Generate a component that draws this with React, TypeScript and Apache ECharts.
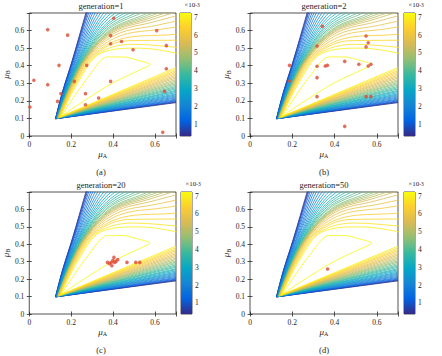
import React, { useEffect, useRef } from "react";
import * as echarts from "echarts";

// ---------- data ----------
const panelTitles = ["generation=1", "generation=2", "generation=20", "generation=50"];
const panelCaptions = ["(a)", "(b)", "(c)", "(d)"];

// contour level values (x10^-3), outer (low) -> inner (high); last one is the closed loop
const levelValues = [
  0.45, 0.675, 0.9, 1.125, 1.35, 1.575, 1.8, 2.025, 2.25, 2.475, 2.7, 2.925, 3.15, 3.375, 3.6, 3.825,
  4.05, 4.275, 4.5, 4.725, 4.95, 5.175, 5.4, 5.625, 5.85, 6.075, 6.3, 6.525, 6.75, 6.975, 7.2,
];

// upper arm of each open contour: starts at the wedge apex, rises, bends over to the right
const upperArms = [
  [[0.125, 0.098], [0.158, 0.25], [0.205, 0.43], [0.27, 0.7], [0.32, 0.9], [0.37, 1.1]],
  [[0.125, 0.098], [0.159, 0.251], [0.206, 0.43], [0.273, 0.698], [0.325, 0.896], [0.377, 1.093]],
  [[0.126, 0.098], [0.16, 0.251], [0.208, 0.431], [0.276, 0.695], [0.332, 0.889], [0.388, 1.083]],
  [[0.126, 0.099], [0.161, 0.252], [0.211, 0.432], [0.281, 0.691], [0.342, 0.88], [0.403, 1.069]],
  [[0.127, 0.099], [0.163, 0.254], [0.214, 0.433], [0.288, 0.686], [0.354, 0.869], [0.421, 1.051]],
  [[0.128, 0.099], [0.165, 0.255], [0.219, 0.434], [0.295, 0.68], [0.368, 0.855], [0.443, 1.03]],
  [[0.128, 0.1], [0.167, 0.257], [0.223, 0.435], [0.303, 0.674], [0.382, 0.842], [0.465, 1.009]],
  [[0.129, 0.1], [0.17, 0.258], [0.227, 0.437], [0.311, 0.667], [0.398, 0.827], [0.489, 0.986]],
  [[0.13, 0.1], [0.172, 0.26], [0.232, 0.438], [0.319, 0.661], [0.415, 0.811], [0.514, 0.962]],
  [[0.131, 0.101], [0.174, 0.261], [0.236, 0.439], [0.327, 0.654], [0.429, 0.797], [0.536, 0.94]],
  [[0.132, 0.101], [0.177, 0.263], [0.24, 0.44], [0.335, 0.648], [0.445, 0.783], [0.56, 0.918]],
  [[0.132, 0.102], [0.179, 0.265], [0.244, 0.442], [0.343, 0.642], [0.46, 0.769], [0.583, 0.896]],
  [[0.133, 0.102], [0.181, 0.266], [0.248, 0.443], [0.35, 0.636], [0.474, 0.756], [0.604, 0.876]],
  [[0.134, 0.102], [0.183, 0.268], [0.252, 0.444], [0.358, 0.63], [0.488, 0.743], [0.626, 0.855]],
  [[0.134, 0.103], [0.185, 0.269], [0.256, 0.445], [0.364, 0.625], [0.5, 0.731], [0.644, 0.838]],
  [[0.135, 0.103], [0.187, 0.27], [0.259, 0.446], [0.37, 0.62], [0.512, 0.72], [0.662, 0.82]],
  [[0.136, 0.103], [0.189, 0.271], [0.262, 0.447], [0.376, 0.615], [0.524, 0.709], [0.68, 0.803]],
  [[0.136, 0.103], [0.19, 0.272], [0.265, 0.448], [0.381, 0.611], [0.534, 0.7], [0.695, 0.789]],
  [[0.137, 0.104], [0.192, 0.273], [0.268, 0.449], [0.387, 0.606], [0.545, 0.689], [0.712, 0.772]],
  [[0.137, 0.104], [0.193, 0.274], [0.27, 0.449], [0.391, 0.603], [0.553, 0.682], [0.724, 0.76]],
  [[0.138, 0.104], [0.194, 0.275], [0.273, 0.45], [0.395, 0.6], [0.56, 0.675], [0.735, 0.75]],
  [[0.138, 0.104], [0.195, 0.276], [0.275, 0.451], [0.399, 0.597], [0.568, 0.668], [0.747, 0.739]],
  [[0.138, 0.104], [0.196, 0.277], [0.277, 0.451], [0.403, 0.593], [0.576, 0.66], [0.759, 0.727]],
  [[0.139, 0.105], [0.198, 0.278], [0.281, 0.452], [0.41, 0.588], [0.589, 0.648], [0.779, 0.708]],
  [[0.14, 0.105], [0.201, 0.28], [0.286, 0.454], [0.42, 0.58], [0.608, 0.63], [0.808, 0.68]],
  [[0.141, 0.106], [0.205, 0.283], [0.293, 0.456], [0.433, 0.57], [0.632, 0.608], [0.845, 0.645]],
  [[0.143, 0.107], [0.21, 0.286], [0.302, 0.459], [0.45, 0.556], [0.666, 0.576], [0.896, 0.596]],
  [[0.145, 0.107], [0.215, 0.29], [0.312, 0.462], [0.468, 0.542], [0.699, 0.545], [0.947, 0.547]],
  [[0.147, 0.109], [0.222, 0.295], [0.325, 0.466], [0.493, 0.522], [0.747, 0.5], [1.02, 0.477]],
  [[0.15, 0.11], [0.23, 0.3], [0.34, 0.47], [0.52, 0.5], [0.8, 0.45], [1.1, 0.4]],
];

// lower arm of each open contour: from the apex to the right edge
const lowerEnds = [
  [0.7, 0.19], [0.7, 0.193], [0.7, 0.196], [0.7, 0.2], [0.7, 0.205], [0.7, 0.21], [0.7, 0.216],
  [0.7, 0.222], [0.7, 0.228], [0.7, 0.234], [0.7, 0.24], [0.7, 0.247], [0.7, 0.254], [0.7, 0.26],
  [0.7, 0.268], [0.7, 0.275], [0.7, 0.282], [0.7, 0.29], [0.7, 0.298], [0.7, 0.305], [0.7, 0.313],
  [0.7, 0.321], [0.7, 0.33], [0.7, 0.338], [0.7, 0.346], [0.7, 0.355], [0.7, 0.364], [0.7, 0.372],
  [0.7, 0.381], [0.7, 0.39],
];

// closed innermost contour (highest level), tip near (0.576, 0.407)
const innerLoop = [
  [0.152, 0.112], [0.2, 0.2], [0.28, 0.335], [0.37, 0.45], [0.45, 0.45], [0.52, 0.43], [0.576, 0.407],
  [0.52, 0.372], [0.45, 0.333], [0.37, 0.283], [0.28, 0.215], [0.2, 0.152], [0.152, 0.112],
];

const gen1Points = [
  [0.003, 0.165], [0.022, 0.317], [0.088, 0.605], [0.088, 0.292], [0.183, 0.574], [0.142, 0.402],
  [0.151, 0.241], [0.135, 0.197], [0.215, 0.311], [0.274, 0.402], [0.268, 0.241], [0.268, 0.178],
  [0.331, 0.216], [0.403, 0.67], [0.388, 0.572], [0.388, 0.525], [0.44, 0.538], [0.388, 0.311],
  [0.495, 0.491], [0.608, 0.6], [0.654, 0.514], [0.654, 0.383], [0.645, 0.254], [0.637, 0.021],
];
const gen2Points = [
  [0.187, 0.402], [0.187, 0.313], [0.342, 0.624], [0.317, 0.512], [0.317, 0.397], [0.317, 0.332],
  [0.317, 0.224], [0.356, 0.398], [0.366, 0.402], [0.448, 0.425], [0.448, 0.055], [0.515, 0.408],
  [0.549, 0.569], [0.549, 0.507], [0.559, 0.531], [0.559, 0.398], [0.572, 0.408], [0.549, 0.224],
  [0.572, 0.224],
];
const gen20Points = [
  [0.373, 0.296], [0.383, 0.289], [0.391, 0.296], [0.399, 0.308], [0.404, 0.325], [0.407, 0.296],
  [0.394, 0.277], [0.414, 0.302], [0.422, 0.312], [0.466, 0.296], [0.508, 0.296], [0.527, 0.296],
];
const gen50Points = [[0.367, 0.258]];
const scatterSets = [gen1Points, gen2Points, gen20Points, gen50Points];

const colorbarTicks = [1, 2, 3, 4, 5, 6, 7];
const colorbarRange = [0.37, 7.23];

// ---------- style ----------
const PARULA = ["#352a87", "#0363e1", "#1485d4", "#06a7c6", "#38b99e", "#92bf73", "#d9ba56", "#fcce2e", "#f9fb0e"];
const AX = "#262626";
const SERIF = "'Liberation Serif', 'DejaVu Serif', serif";
const DOT = "#dc4a33";

const PLOTS = [
  { left: 26, top: 13, width: 150, height: 123, cbLeft: 180 },
  { left: 250, top: 13, width: 148, height: 123, cbLeft: 404 },
  { left: 26, top: 192, width: 150, height: 122, cbLeft: 181 },
  { left: 250, top: 192, width: 148, height: 122, cbLeft: 404 },
];

function hexToRgb(h: string) {
  return [parseInt(h.slice(1, 3), 16), parseInt(h.slice(3, 5), 16), parseInt(h.slice(5, 7), 16)];
}
function parula(v: number) {
  const t = Math.min(1, Math.max(0, (v - colorbarRange[0]) / (colorbarRange[1] - colorbarRange[0])));
  const pos = t * (PARULA.length - 1);
  const i = Math.min(PARULA.length - 2, Math.floor(pos));
  const f = pos - i;
  const a = hexToRgb(PARULA[i]);
  const b = hexToRgb(PARULA[i + 1]);
  const c = a.map((x, j) => Math.round(x + (b[j] - x) * f));
  return `rgb(${c[0]},${c[1]},${c[2]})`;
}

const tickFmt = (v: number) => (v > 0.65 ? "" : v === 0 ? "0" : String(+v.toFixed(1)));

function buildOption() {
  const grid: any[] = [];
  const xAxis: any[] = [];
  const yAxis: any[] = [];
  const series: any[] = [];
  const graphic: any[] = [];

  const nameRich = {
    m: { fontSize: 9, fontFamily: SERIF, fontStyle: "italic", color: AX, lineHeight: 11 },
    s: { fontSize: 6, fontFamily: SERIF, color: AX, verticalAlign: "bottom" },
  };
  const tickStyle = { inside: true, length: 2.5, lineStyle: { color: AX, width: 0.8 } };
  const LW = 0.8;

  PLOTS.forEach((P, p) => {
    const gMain = 2 * p;
    const gCb = 2 * p + 1;
    grid.push({ left: P.left, top: P.top, width: P.width, height: P.height, show: true, borderColor: AX, borderWidth: 0.8 });
    grid.push({ left: P.cbLeft, top: P.top, width: 11, height: P.height, show: true, borderColor: AX, borderWidth: 0.8 });

    const xi = 3 * p;
    const yi = 3 * p;
    xAxis.push({
      type: "value", gridIndex: gMain, position: "bottom", min: 0, max: 0.7, interval: 0.2,
      axisLine: { show: false }, axisTick: tickStyle, splitLine: { show: false },
      axisLabel: { fontSize: 7.5, fontFamily: SERIF, color: AX, margin: 4, formatter: tickFmt },
      name: "{m|μ}{s|A}", nameLocation: "middle", nameGap: 12, nameTextStyle: { rich: nameRich },
    });
    xAxis.push({
      type: "value", gridIndex: gMain, position: "top", min: 0, max: 0.7, interval: 0.2,
      axisLine: { show: false }, axisTick: tickStyle, axisLabel: { show: false }, splitLine: { show: false },
    });
    xAxis.push({ type: "category", gridIndex: gCb, data: ["c"], show: false, boundaryGap: true });

    yAxis.push({
      type: "value", gridIndex: gMain, position: "left", min: 0, max: 0.7, interval: 0.1,
      axisLine: { show: false }, axisTick: tickStyle, splitLine: { show: false },
      axisLabel: { fontSize: 7.5, fontFamily: SERIF, color: AX, margin: 5, formatter: tickFmt },
      name: "{m|μ}{s|B}", nameLocation: "middle", nameGap: 15, nameRotate: 90, nameTextStyle: { rich: nameRich },
    });
    yAxis.push({
      type: "value", gridIndex: gMain, position: "right", min: 0, max: 0.7, interval: 0.1,
      axisLine: { show: false }, axisTick: tickStyle, axisLabel: { show: false }, splitLine: { show: false },
    });
    yAxis.push({
      type: "value", gridIndex: gCb, position: "right", min: colorbarRange[0], max: colorbarRange[1],
      axisLine: { show: false }, splitLine: { show: false },
      axisTick: { show: true, inside: true, length: 2, lineStyle: { color: AX, width: 0.8 }, customValues: colorbarTicks },
      axisLabel: { fontSize: 7.5, fontFamily: SERIF, color: AX, margin: 3, customValues: colorbarTicks },
    });

    // contours
    for (let k = 0; k < upperArms.length; k++) {
      const col = parula(levelValues[k]);
      series.push({
        type: "line", xAxisIndex: xi, yAxisIndex: yi, silent: true, symbol: "none",
        data: [upperArms[k][0], lowerEnds[k]], lineStyle: { color: col, width: LW }, z: 2,
      });
      series.push({
        type: "line", xAxisIndex: xi, yAxisIndex: yi, silent: true, symbol: "none", smooth: 0.35,
        data: upperArms[k], lineStyle: { color: col, width: LW }, z: 2,
      });
    }
    series.push({
      type: "line", xAxisIndex: xi, yAxisIndex: yi, silent: true, symbol: "none", smooth: 0.25,
      data: innerLoop, lineStyle: { color: parula(levelValues[levelValues.length - 1]), width: LW }, z: 2,
    });

    series.push({
      type: "scatter", xAxisIndex: xi, yAxisIndex: yi, silent: true, symbol: "circle", symbolSize: 3.6,
      data: scatterSets[p], itemStyle: { color: DOT }, z: 5,
    });

    // colorbar
    series.push({
      type: "bar", xAxisIndex: 3 * p + 2, yAxisIndex: 3 * p + 2, stack: "cb" + p, silent: true,
      barWidth: "100%", data: [colorbarRange[0]], itemStyle: { color: "rgba(0,0,0,0)" },
    });
    series.push({
      type: "bar", xAxisIndex: 3 * p + 2, yAxisIndex: 3 * p + 2, stack: "cb" + p, silent: true,
      barWidth: "100%", data: [colorbarRange[1] - colorbarRange[0]],
      itemStyle: {
        color: new echarts.graphic.LinearGradient(0, 1, 0, 0,
          PARULA.map((c, i) => ({ offset: i / (PARULA.length - 1), color: c }))),
      },
    });

    // texts
    const cx = P.left + P.width / 2;
    graphic.push({
      type: "text", x: cx, y: P.top - 7,
      style: { text: panelTitles[p], fontSize: 8.5, fontFamily: SERIF, fill: AX, align: "center", verticalAlign: "middle", textAlign: "center", textVerticalAlign: "middle" },
    });
    graphic.push({
      type: "text", x: cx, y: P.top + P.height + 36,
      style: { text: panelCaptions[p], fontSize: 8.5, fontFamily: SERIF, fill: AX, align: "center", verticalAlign: "middle", textAlign: "center", textVerticalAlign: "middle" },
    });
    graphic.push({
      type: "text", x: P.cbLeft + 12, y: P.top - 8,
      style: {
        text: "×10{sup|-3}", fontSize: 7, fontFamily: SERIF, fill: AX, align: "center", verticalAlign: "middle",
        textAlign: "center", textVerticalAlign: "middle",
        rich: { sup: { fontSize: 5.5, fontFamily: SERIF, fill: AX, verticalAlign: "top" } },
      },
    });
  });

  return { animation: false, backgroundColor: "#fff", grid, xAxis, yAxis, series, graphic };
}

export default function App() {
  const ref = useRef<HTMLDivElement>(null);
  useEffect(() => {
    const chart = echarts.init(ref.current!, null, { renderer: "svg" });
    chart.setOption(buildOption() as any);
    return () => chart.dispose();
  }, []);
  return <div ref={ref} style={{ position: "fixed", left: 0, top: 0, width: 442, height: 356, background: "#fff" }} />;
}
